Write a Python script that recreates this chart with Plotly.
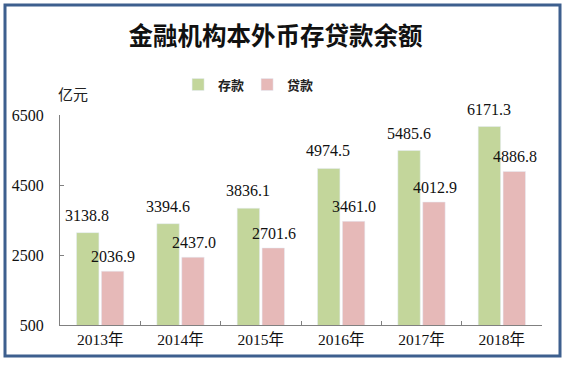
import plotly.graph_objects as go

years = ["2013年", "2014年", "2015年", "2016年", "2017年", "2018年"]
deposits = [3138.8, 3394.6, 3836.1, 4974.5, 5485.6, 6171.3]
loans = [2036.9, 2437.0, 2701.6, 3461.0, 4012.9, 4886.8]
series_names = ["<b>存款</b>", "<b>贷款</b>"]
y_ticks = [500, 2500, 4500, 6500]

GREEN = "#c3d69b"
PINK = "#e6b9b8"
SERIF = "Liberation Serif, Times New Roman, Noto Sans CJK SC"
CJK = "Noto Sans CJK SC"

fig = go.Figure()
fig.add_bar(x=years, y=deposits, name=series_names[0], marker_color=GREEN)
fig.add_bar(x=years, y=loans, name=series_names[1], marker_color=PINK)

annotations = []
for yr, d, l in zip(years, deposits, loans):
    annotations.append(dict(x=yr, y=d, text=f"{d:.1f}", xshift=-13, yshift=7,
                            yanchor="bottom", showarrow=False,
                            font=dict(family=SERIF, size=16, color="#111")))
    annotations.append(dict(x=yr, y=l, text=f"{l:.1f}", xshift=13, yshift=4,
                            yanchor="bottom", showarrow=False,
                            font=dict(family=SERIF, size=16, color="#111")))
annotations.append(dict(xref="paper", yref="paper", x=-0.008, y=1.1, text="亿元",
                        showarrow=False, xanchor="left", yanchor="middle",
                        font=dict(family=CJK, size=15, color="#222")))

fig.update_layout(
    width=568, height=367,
    margin=dict(l=60, r=26, t=115, b=42),
    paper_bgcolor="white", plot_bgcolor="white",
    barmode="group", bargap=0.38, bargroupgap=0.1,
    title=dict(text="<b>金融机构本外币存贷款余额</b>", x=0.485, xanchor="center",
               y=0.9, yanchor="middle", yref="container",
               font=dict(family=CJK, size=24.5, color="#111")),
    legend=dict(orientation="h", x=0.245, xanchor="left", y=1.145, yanchor="middle",
                font=dict(family=CJK, size=13, color="#222"),
                bgcolor="rgba(0,0,0,0)", itemwidth=30,
                entrywidth=24, entrywidthmode="pixels"),
    showlegend=True,
    annotations=annotations,
    xaxis=dict(showline=True, linecolor="#808080", linewidth=1,
               ticks="inside", ticklen=4, tickcolor="#808080", tickson="boundaries",
               tickfont=dict(family=SERIF, size=15.5, color="#111"),
               showgrid=False, fixedrange=True),
    yaxis=dict(range=[500, 6500], tickvals=y_ticks, showline=True, linecolor="#808080",
               linewidth=1, ticks="inside", ticklen=4, tickcolor="#808080",
               tickfont=dict(family=SERIF, size=16, color="#111"),
               showgrid=False, zeroline=False, ticklabelstandoff=12),
    shapes=[dict(type="rect", xref="paper", yref="paper",
                 x0=(5 - 60) / 482, x1=(560 - 60) / 482,
                 y0=(325 - 356) / 210, y1=(325 - 5) / 210,
                 line=dict(color="#3d5f8e", width=3), fillcolor="rgba(0,0,0,0)")],
)

fig.write_html("out.html", config={"displayModeBar": False},
               post_script="document.body.style.margin='0';document.body.style.padding='0';")
